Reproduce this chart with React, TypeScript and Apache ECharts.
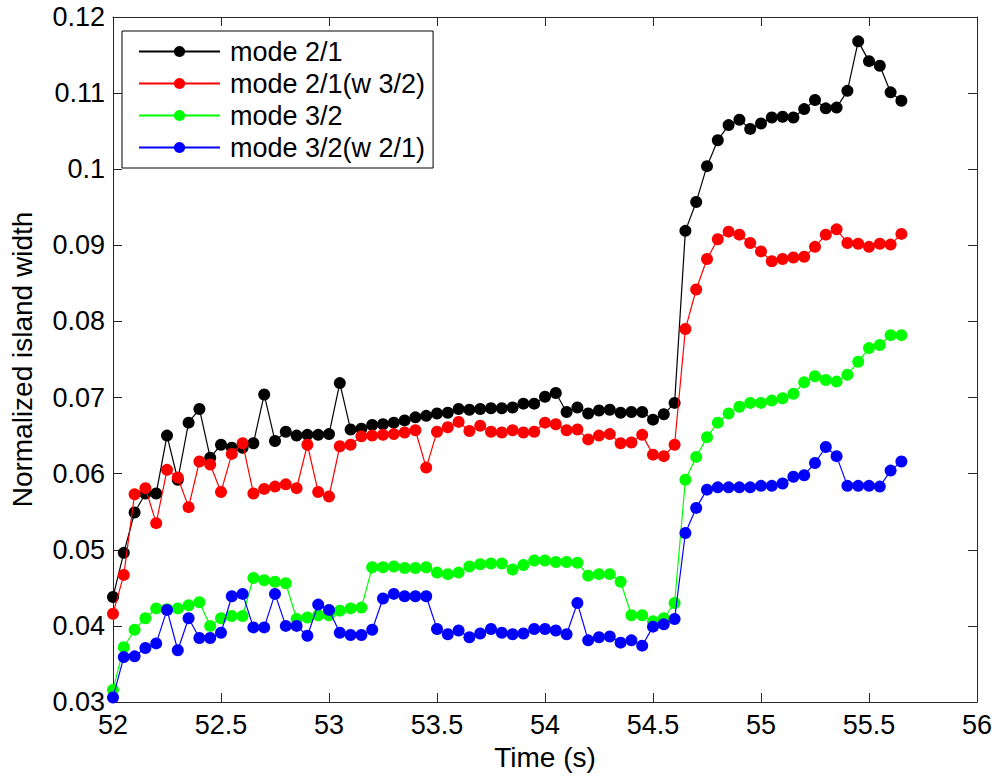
import React, { useEffect, useRef } from "react";
import * as echarts from "echarts";

const TIME = [
  52.0, 52.05, 52.1, 52.15, 52.2, 52.25, 52.3, 52.35, 52.4, 52.45,
  52.5, 52.55, 52.6, 52.65, 52.7, 52.75, 52.8, 52.85, 52.9, 52.95,
  53.0, 53.05, 53.1, 53.15, 53.2, 53.25, 53.3, 53.35, 53.4, 53.45,
  53.5, 53.55, 53.6, 53.65, 53.7, 53.75, 53.8, 53.85, 53.9, 53.95,
  54.0, 54.05, 54.1, 54.15, 54.2, 54.25, 54.3, 54.35, 54.4, 54.45,
  54.5, 54.55, 54.6, 54.65, 54.7, 54.75, 54.8, 54.85, 54.9, 54.95,
  55.0, 55.05, 55.1, 55.15, 55.2, 55.25, 55.3, 55.35, 55.4, 55.45,
  55.5, 55.55, 55.6, 55.65,
];

const MODE_21 = [
  0.0438, 0.0496, 0.0549, 0.0574, 0.0574, 0.065, 0.0592, 0.0667, 0.0685, 0.0621,
  0.0638, 0.0634, 0.0634, 0.064, 0.0704, 0.0643, 0.0655, 0.065, 0.0651, 0.0651,
  0.0652, 0.0719, 0.0658, 0.0659, 0.0664, 0.0665, 0.0667, 0.067, 0.0674, 0.0676,
  0.0679, 0.068, 0.0685, 0.0684, 0.0685, 0.0686, 0.0686, 0.0687, 0.0692, 0.0692,
  0.0701, 0.0706, 0.0681, 0.0687, 0.0679, 0.0683, 0.0684, 0.068, 0.0681, 0.0681,
  0.0671, 0.0678, 0.0693, 0.0919, 0.0957, 0.1004, 0.1038, 0.1058, 0.1065, 0.1053,
  0.106, 0.1068, 0.1069, 0.1068, 0.1079, 0.1091, 0.108, 0.1081, 0.1103, 0.1168,
  0.1142, 0.1136, 0.1101, 0.109,
];

const MODE_21_W32 = [
  0.0416, 0.0467, 0.0573, 0.0581, 0.0535, 0.0605, 0.0595, 0.0556, 0.0616, 0.0612,
  0.0576, 0.0626, 0.064, 0.0574, 0.058, 0.0583, 0.0586, 0.0581, 0.0638, 0.0576,
  0.057, 0.0636, 0.0638, 0.0649, 0.065, 0.0651, 0.0652, 0.0654, 0.0657, 0.0608,
  0.0655, 0.0661, 0.0668, 0.0656, 0.0663, 0.0655, 0.0654, 0.0657, 0.0654, 0.0655,
  0.0667, 0.0665, 0.0657, 0.0658, 0.0645, 0.065, 0.0652, 0.064, 0.0641, 0.0651,
  0.0625, 0.0623, 0.0638, 0.079, 0.0842, 0.0882, 0.0908, 0.0918, 0.0914, 0.0903,
  0.0892, 0.0879, 0.0882, 0.0884, 0.0885, 0.0898, 0.0914, 0.0921, 0.0903, 0.0902,
  0.0898, 0.0902, 0.0901, 0.0915,
];

const MODE_32 = [
  0.0316, 0.0372, 0.0395, 0.041, 0.0423, 0.0422, 0.0423, 0.0427, 0.0431, 0.04,
  0.041, 0.0413, 0.0413, 0.0463, 0.046, 0.0458, 0.0456, 0.0409, 0.0411, 0.0414,
  0.0414, 0.042, 0.0423, 0.0424, 0.0477, 0.0477, 0.0478, 0.0476, 0.0476, 0.0477,
  0.047, 0.0468, 0.047, 0.0478, 0.0481, 0.0482, 0.0482, 0.0474, 0.048, 0.0486,
  0.0486, 0.0484, 0.0484, 0.0483, 0.0466, 0.0468, 0.0468, 0.0458, 0.0414, 0.0414,
  0.0406, 0.041, 0.043, 0.0592, 0.0622, 0.0648, 0.0667, 0.0679, 0.0688, 0.0693,
  0.0693, 0.0696, 0.0699, 0.0705, 0.072, 0.0728, 0.0723, 0.0721, 0.073, 0.0747,
  0.0765, 0.0769, 0.0782, 0.0782,
];

const MODE_32_W21 = [
  0.0306, 0.0359, 0.036, 0.0371, 0.0377, 0.0421, 0.0368, 0.041, 0.0384, 0.0384,
  0.0391, 0.0439, 0.0442, 0.0398, 0.0398, 0.0442, 0.04, 0.04, 0.0387, 0.0428,
  0.0421, 0.0391, 0.0388, 0.0388, 0.0395, 0.0436, 0.0442, 0.0439, 0.0439, 0.0439,
  0.0396, 0.0389, 0.0394, 0.0385, 0.039, 0.0396, 0.0391, 0.0389, 0.039, 0.0396,
  0.0396, 0.0394, 0.0389, 0.043, 0.0381, 0.0385, 0.0386, 0.0378, 0.0381, 0.0374,
  0.0399, 0.0402, 0.0409, 0.0522, 0.0555, 0.0579, 0.0582, 0.0582, 0.0582, 0.0582,
  0.0584, 0.0584, 0.0587, 0.0596, 0.0598, 0.0614, 0.0635, 0.0623, 0.0584, 0.0584,
  0.0584, 0.0583, 0.0604, 0.0616,
];

const SERIES_NAMES = ["mode 2/1", "mode 2/1(w 3/2)", "mode 3/2", "mode 3/2(w 2/1)"];
const SERIES_VALUES = [MODE_21, MODE_21_W32, MODE_32, MODE_32_W21];
const SERIES_COLORS = ["#000000", "#ff0000", "#00ff00", "#0000ff"];

const X_MIN = 52;
const X_MAX = 56;
const X_STEP = 0.5;
const Y_MIN = 0.03;
const Y_MAX = 0.12;
const Y_STEP = 0.01;

const FONT = "'Liberation Sans', Arial, sans-serif";
const AXIS_COLOR = "#262626";

export default function App() {
  const ref = useRef<HTMLDivElement>(null);

  useEffect(() => {
    if (!ref.current) return;
    const chart = echarts.init(ref.current, undefined, { renderer: "svg" });

    const axisCommon = {
      type: "value" as const,
      axisLine: { show: true, onZero: false, lineStyle: { color: AXIS_COLOR, width: 1 } },
      axisTick: { show: true, inside: true, length: 9, lineStyle: { color: AXIS_COLOR, width: 1 } },
      splitLine: { show: false },
    };

    const series = SERIES_NAMES.map((name, k) => ({
      name,
      type: "line" as const,
      xAxisIndex: 0,
      yAxisIndex: 0,
      data: TIME.map((t, i) => [t, SERIES_VALUES[k][i]]),
      symbol: "circle",
      symbolSize: 12,
      showSymbol: true,
      itemStyle: { color: SERIES_COLORS[k] },
      lineStyle: { color: SERIES_COLORS[k], width: 1.2 },
      emphasis: { disabled: true },
      z: 2 + k,
    }));

    chart.setOption({
      animation: false,
      backgroundColor: "#ffffff",
      grid: { left: 108, right: 22, top: 17, bottom: 78, containLabel: false },
      xAxis: [
        {
          ...axisCommon,
          position: "bottom",
          min: X_MIN,
          max: X_MAX,
          interval: X_STEP,
          name: "Time (s)",
          nameLocation: "middle",
          nameGap: 41,
          nameTextStyle: { fontFamily: FONT, fontSize: 28, color: "#000" },
          axisLabel: { show: true, margin: 9, fontFamily: FONT, fontSize: 27, color: "#000" },
        },
        {
          ...axisCommon,
          position: "top",
          min: X_MIN,
          max: X_MAX,
          interval: X_STEP,
          axisLabel: { show: false },
        },
      ],
      yAxis: [
        {
          ...axisCommon,
          position: "left",
          min: Y_MIN,
          max: Y_MAX,
          interval: Y_STEP,
          name: "Normalized island width",
          nameLocation: "middle",
          nameGap: 77,
          nameTextStyle: { fontFamily: FONT, fontSize: 28, color: "#000" },
          axisLabel: { show: true, margin: 8, fontFamily: FONT, fontSize: 27, color: "#000" },
        },
        {
          ...axisCommon,
          position: "right",
          min: Y_MIN,
          max: Y_MAX,
          interval: Y_STEP,
          axisLabel: { show: false },
        },
      ],
      legend: {
        show: true,
        orient: "vertical",
        left: 122,
        top: 31,
        padding: [7, 8, 7, 16],
        itemGap: 5,
        itemWidth: 81,
        itemHeight: 14,
        backgroundColor: "#ffffff",
        borderColor: "#000000",
        borderWidth: 1,
        borderRadius: 0,
        textStyle: {
          fontFamily: FONT,
          fontSize: 27,
          color: "#000",
          lineHeight: 27,
          padding: [0, 0, 0, 5],
        },
        selectedMode: false,
        data: SERIES_NAMES,
      },
      series,
    });

    return () => chart.dispose();
  }, []);

  return (
    <div
      ref={ref}
      style={{ position: "fixed", left: 0, top: 0, width: 999, height: 780, background: "#fff" }}
    />
  );
}
